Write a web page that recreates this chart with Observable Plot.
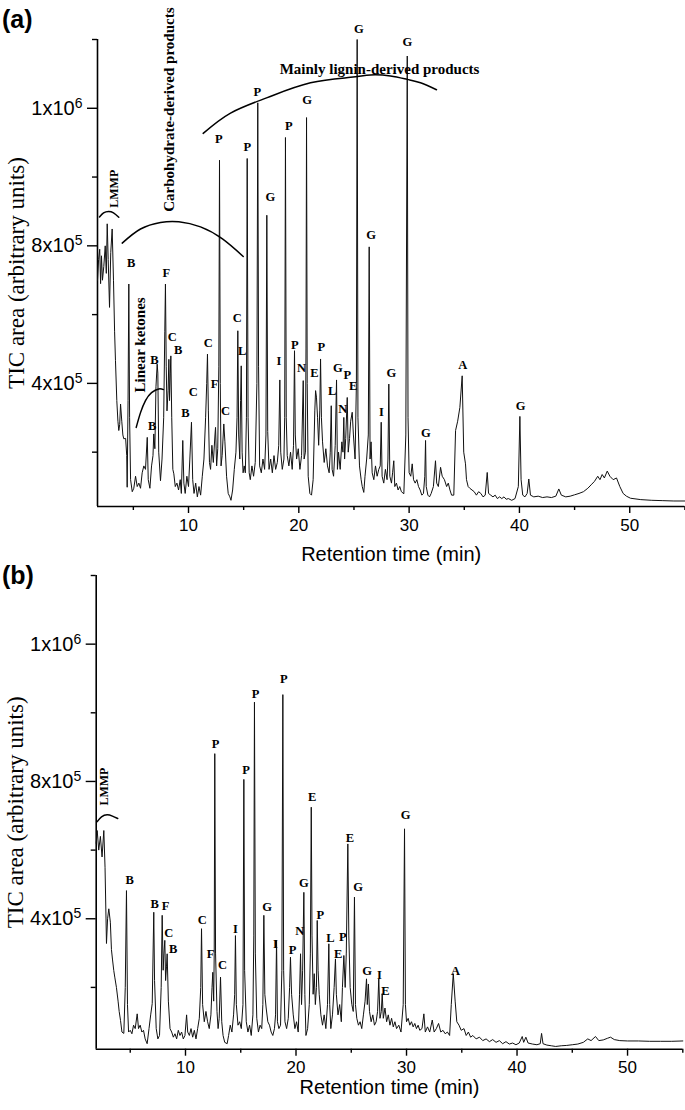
<!DOCTYPE html>
<html><head><meta charset="utf-8">
<script src="https://cdn.jsdelivr.net/npm/d3@7"></script>
<script src="https://cdn.jsdelivr.net/npm/@observablehq/plot@0.6"></script>
<style>
body{margin:0;background:#fff;}
#wrap{position:relative;width:685px;height:1110px;overflow:hidden;background:#fff;}
#wrap svg{position:absolute;left:0;background:none;}
.panel{position:absolute;left:2px;font:bold 25px "Liberation Sans",Arial,sans-serif;line-height:28px;color:#000;}
</style></head><body><div id="wrap"><div class="panel" style="top:5px">(a)</div><div class="panel" style="top:561px">(b)</div></div>
<script>
// ---- axis ticks / labels ----
const xMajor = [10, 20, 30, 40, 50];
const xMinor = [5, 15, 25, 35, 45, 55];
const yMajor = [4, 8, 12];                       // in units of 10^5
const yMajorLabels = ["4x10^5", "8x10^5", "1x10^6"];
const yMinor = [2, 6, 10, 14];
const xTitle = "Retention time (min)";
const yTitle = "TIC area (arbitrary units)";

// ---- panel (a): chromatogram [time (min), TIC area (x10^5)] ----
const traceA = [[1.75,7.0],[1.85,7.6],[1.95,7.9],[2.03,6.9],[2.11,7.71],[2.2,7.0],[2.32,7.4],[2.45,8.0],[2.55,7.2],[2.63,8.64],[2.72,7.6],[2.84,6.21],[2.95,7.8],[3.08,8.49],[3.2,7.0],[3.3,5.5],[3.38,4.66],[3.5,3.5],[3.6,2.9],[3.68,2.63],[3.76,2.8],[3.84,3.4],[3.95,2.9],[4.05,2.5],[4.13,2.39],[4.3,2.4],[4.4,1.9],[4.44,0.98],[4.52,3.5],[4.59,6.89],[4.66,3.0],[4.75,1.2],[4.9,0.85],[5.04,0.95],[5.2,1.3],[5.35,1.0],[5.5,1.1],[5.65,0.95],[5.8,1.4],[5.95,1.6],[6.1,1.5],[6.26,2.43],[6.35,1.2],[6.5,0.95],[6.65,1.6],[6.78,1.9],[6.85,2.53],[6.95,2.1],[7.05,3.9],[7.16,4.56],[7.22,4.3],[7.3,2.0],[7.46,1.17],[7.6,1.8],[7.75,3.0],[7.85,5.5],[7.91,6.89],[7.98,4.5],[8.05,3.2],[8.15,3.8],[8.22,4.7],[8.28,3.5],[8.35,4.3],[8.4,4.8],[8.48,3.0],[8.58,1.5],[8.67,1.37],[8.8,1.0],[8.95,1.1],[9.1,0.9],[9.25,1.2],[9.35,0.8],[9.48,2.34],[9.58,1.1],[9.7,0.8],[9.85,1.3],[10.0,1.0],[10.12,1.8],[10.27,2.87],[10.38,1.2],[10.5,0.8],[10.65,1.1],[10.8,0.7],[10.95,1.0],[11.1,0.75],[11.25,1.3],[11.4,1.8],[11.55,3.0],[11.65,4.0],[11.72,4.85],[11.8,3.2],[11.9,1.7],[12.0,1.5],[12.12,2.2],[12.25,1.7],[12.4,2.5],[12.45,2.72],[12.55,1.6],[12.65,2.1],[12.75,4.5],[12.81,10.49],[12.88,4.0],[12.95,1.6],[13.05,1.9],[13.2,2.82],[13.3,2.3],[13.45,1.3],[13.6,0.8],[13.75,0.7],[13.85,0.6],[14.0,0.9],[14.15,1.5],[14.3,2.0],[14.4,3.0],[14.47,5.53],[14.55,2.5],[14.65,1.8],[14.72,3.5],[14.78,4.51],[14.86,2.0],[14.95,1.4],[15.05,1.6],[15.15,1.4],[15.25,3.0],[15.32,10.54],[15.4,3.0],[15.5,1.4],[15.6,1.2],[15.75,1.6],[15.9,1.3],[16.05,1.7],[16.2,4.0],[16.28,12.16],[16.35,4.5],[16.45,1.6],[16.6,1.4],[16.75,1.8],[16.9,1.5],[17.02,2.5],[17.1,8.89],[17.18,2.6],[17.3,1.5],[17.45,1.8],[17.6,1.4],[17.75,1.9],[17.9,1.5],[18.05,1.7],[18.18,2.2],[18.28,4.1],[18.36,2.0],[18.5,1.5],[18.65,1.8],[18.72,3.0],[18.79,11.15],[18.86,3.0],[18.95,1.9],[19.1,1.6],[19.25,2.0],[19.4,1.5],[19.52,2.2],[19.61,4.95],[19.68,2.5],[19.8,1.8],[19.95,2.1],[20.1,1.5],[20.25,1.9],[20.4,4.08],[20.48,1.8],[20.6,2.0],[20.65,5.0],[20.7,11.73],[20.76,4.0],[20.85,1.3],[21.0,0.8],[21.15,0.75],[21.3,1.2],[21.45,3.2],[21.52,3.79],[21.6,3.6],[21.7,3.0],[21.8,2.2],[21.9,3.2],[21.97,4.71],[22.05,3.0],[22.15,2.3],[22.3,1.7],[22.45,2.1],[22.6,1.6],[22.75,1.4],[22.85,2.0],[22.94,3.35],[23.02,1.5],[23.15,1.3],[23.3,2.2],[23.42,4.1],[23.5,1.5],[23.6,2.0],[23.75,1.5],[23.9,2.3],[24.0,2.0],[24.08,3.01],[24.15,1.8],[24.25,2.4],[24.39,3.59],[24.48,2.0],[24.6,2.4],[24.7,2.9],[24.84,3.16],[24.95,2.5],[25.1,1.8],[25.22,4.0],[25.29,14.0],[25.36,3.0],[25.5,1.6],[25.65,1.2],[25.75,1.0],[25.89,0.83],[26.0,1.3],[26.15,1.8],[26.3,2.5],[26.38,7.97],[26.46,1.8],[26.55,2.3],[26.65,1.4],[26.8,1.2],[26.95,1.6],[27.1,1.3],[27.25,1.5],[27.38,1.6],[27.47,2.87],[27.55,1.3],[27.7,1.1],[27.85,1.5],[28.0,1.2],[28.08,1.8],[28.16,3.98],[28.25,1.3],[28.4,1.1],[28.5,1.4],[28.61,1.75],[28.7,1.0],[28.85,1.1],[29.0,0.9],[29.15,1.0],[29.3,0.85],[29.52,0.79],[29.7,2.5],[29.83,13.52],[29.9,3.0],[30.0,1.4],[30.15,1.3],[30.28,1.66],[30.4,1.2],[30.55,1.1],[30.7,1.2],[30.85,1.0],[31.0,0.9],[31.15,0.75],[31.3,0.8],[31.42,1.3],[31.49,2.34],[31.55,1.0],[31.7,0.75],[31.85,0.7],[32.0,0.8],[32.2,1.0],[32.39,1.75],[32.5,1.1],[32.65,1.0],[32.85,1.56],[33.0,1.3],[33.2,1.2],[33.4,1.0],[33.55,1.1],[33.7,0.9],[33.85,0.75],[34.05,0.75],[34.21,2.63],[34.4,2.9],[34.6,3.3],[34.81,4.22],[34.95,2.0],[35.11,1.66],[35.2,1.2],[35.35,1.0],[35.5,0.95],[35.7,0.9],[35.9,0.85],[36.1,0.75],[36.3,0.85],[36.5,0.8],[36.7,0.7],[36.9,0.75],[37.08,1.41],[37.2,0.8],[37.4,0.75],[37.6,0.7],[37.8,0.75],[38.0,0.65],[38.2,0.7],[38.4,0.65],[38.6,0.7],[38.8,0.63],[39.0,0.65],[39.3,0.6],[39.6,0.65],[39.9,1.0],[40.04,3.04],[40.15,1.2],[40.3,0.75],[40.5,0.7],[40.7,0.8],[40.85,1.22],[41.0,0.75],[41.3,0.7],[41.7,0.72],[42.1,0.68],[42.5,0.7],[42.9,0.68],[43.3,0.72],[43.57,0.93],[43.8,0.75],[44.2,0.7],[44.6,0.72],[45.0,0.76],[45.4,0.8],[45.8,0.85],[46.2,0.95],[46.5,1.05],[46.8,1.15],[47.1,1.3],[47.3,1.2],[47.5,1.35],[47.7,1.25],[47.96,1.45],[48.2,1.3],[48.5,1.2],[48.8,1.25],[49.1,1.0],[49.4,0.8],[49.7,0.72],[50.07,0.66],[51.0,0.62],[52.0,0.6],[53.0,0.59],[54.0,0.58],[55.0,0.58]];

// peak labels (a): [time, level, letter]
const peaksA = [[4.81,7.50,"B"],[6.71,2.77,"B"],[6.92,4.68,"B"],[7.98,7.20,"F"],[8.52,5.36,"C"],[9.07,4.98,"B"],[9.73,3.13,"B"],[10.43,3.76,"C"],[11.79,5.16,"C"],[12.36,3.98,"F"],[13.35,3.21,"C"],[12.75,11.10,"P"],[14.42,5.90,"C"],[14.87,4.93,"L"],[15.32,10.86,"P"],[16.23,12.48,"P"],[17.43,9.42,"G"],[18.19,4.66,"I"],[19.09,11.49,"P"],[19.64,5.12,"P"],[20.24,4.46,"N"],[20.76,12.24,"G"],[21.42,4.29,"E"],[22.03,5.07,"P"],[23.03,3.77,"L"],[23.54,4.46,"G"],[23.99,3.26,"N"],[24.39,4.25,"P"],[24.93,3.93,"E"],[25.44,14.30,"G"],[26.56,8.31,"G"],[27.50,3.16,"I"],[28.38,4.29,"G"],[29.83,13.94,"G"],[31.51,2.55,"G"],[34.87,4.53,"A"],[40.10,3.33,"G"]];

// group annotations (a)
const carbArc = [[3.99,8.08],[5.65,8.49],[7.46,8.68],[9.12,8.70],[11.09,8.55],[13.08,8.20],[14.96,7.69]];
const ligninArc = [[11.33,11.27],[13.81,11.86],[17.14,12.31],[21.06,12.74],[24.69,12.90],[26.50,12.97],[28.31,12.94],[29.83,12.84],[31.03,12.74],[32.48,12.54]];
const ketoneArc = [[5.26,2.72],[5.65,3.15],[6.10,3.50],[6.65,3.73],[7.31,3.84],[7.73,3.82]];
const lmmpArcA = [[1.93,8.84],[2.30,8.96],[2.75,9.00],[3.20,8.96],[3.68,8.83]];

// ---- panel (b) ----
const traceB = [[1.92,6.2],[2.01,6.57],[2.15,6.0],[2.3,6.4],[2.45,5.8],[2.61,6.57],[2.72,5.5],[2.85,3.28],[2.95,4.0],[3.06,4.29],[3.2,3.9],[3.3,3.1],[3.4,2.8],[3.51,2.49],[3.6,2.3],[3.75,2.0],[3.9,1.6],[4.0,1.3],[4.12,1.04],[4.25,0.7],[4.42,0.66],[4.55,2.0],[4.66,4.82],[4.75,1.5],[4.85,0.7],[5.0,0.75],[5.15,0.65],[5.3,0.9],[5.45,0.8],[5.63,1.23],[5.75,0.8],[5.9,0.9],[6.05,0.7],[6.2,0.75],[6.35,0.5],[6.53,0.36],[6.7,0.8],[6.85,1.2],[6.99,1.53],[7.13,4.19],[7.2,2.2],[7.35,0.8],[7.5,0.5],[7.65,0.6],[7.8,2.0],[7.89,4.1],[7.98,2.5],[8.05,3.0],[8.13,3.37],[8.2,2.2],[8.28,2.6],[8.34,2.98],[8.45,1.6],[8.6,0.8],[8.75,0.7],[8.9,0.55],[9.05,0.65],[9.2,0.5],[9.35,0.75],[9.5,0.6],[9.65,0.7],[9.8,0.5],[9.95,0.6],[10.1,1.2],[10.2,0.7],[10.35,0.6],[10.5,0.8],[10.65,0.55],[10.8,0.75],[10.95,0.5],[11.1,0.8],[11.25,1.1],[11.38,2.0],[11.45,3.71],[11.55,1.5],[11.7,1.0],[11.85,1.3],[12.0,1.0],[12.15,0.8],[12.3,1.2],[12.4,2.0],[12.47,2.44],[12.55,1.6],[12.6,3.0],[12.65,8.81],[12.72,3.0],[12.85,1.3],[12.95,0.8],[13.05,1.1],[13.17,2.3],[13.28,1.0],[13.4,0.6],[13.55,0.4],[13.77,0.36],[13.9,0.6],[14.05,0.9],[14.2,0.7],[14.35,1.2],[14.45,1.8],[14.52,3.51],[14.6,1.5],[14.75,0.9],[14.9,1.0],[15.05,0.8],[15.2,1.5],[15.28,8.06],[15.35,2.5],[15.5,1.0],[15.65,0.7],[15.8,0.9],[15.95,0.6],[16.1,1.2],[16.18,3.5],[16.24,10.31],[16.32,3.0],[16.45,1.1],[16.6,0.7],[16.75,0.9],[16.9,0.8],[17.0,1.5],[17.09,4.1],[17.18,1.8],[17.3,1.4],[17.45,1.0],[17.6,0.9],[17.75,0.7],[17.9,0.6],[18.05,0.8],[18.15,1.2],[18.24,3.37],[18.32,1.0],[18.45,0.8],[18.6,0.9],[18.72,2.5],[18.81,10.53],[18.88,2.5],[19.0,1.0],[19.15,0.8],[19.3,1.1],[19.42,2.0],[19.5,2.88],[19.6,1.8],[19.75,1.2],[19.9,0.8],[20.05,1.0],[20.2,0.7],[20.32,1.8],[20.41,2.98],[20.5,1.5],[20.6,2.5],[20.71,4.77],[20.8,1.8],[20.9,0.6],[21.05,0.8],[21.2,1.5],[21.3,3.0],[21.38,7.25],[21.45,3.5],[21.55,1.8],[21.65,2.4],[21.75,1.5],[21.85,2.0],[21.92,3.95],[22.0,2.5],[22.1,1.8],[22.25,1.2],[22.4,0.9],[22.55,1.2],[22.7,0.8],[22.85,1.5],[22.97,3.27],[23.05,1.5],[23.15,0.8],[23.3,1.2],[23.45,2.0],[23.57,2.83],[23.65,1.8],[23.8,1.2],[23.95,1.5],[24.1,1.0],[24.2,2.0],[24.33,2.93],[24.45,2.0],[24.55,3.0],[24.69,6.18],[24.78,3.5],[24.9,2.0],[25.05,1.5],[25.18,1.3],[25.29,4.63],[25.38,1.5],[25.5,1.1],[25.65,0.9],[25.8,1.0],[25.95,0.8],[26.1,1.2],[26.25,1.6],[26.38,2.25],[26.45,1.5],[26.55,2.1],[26.65,1.3],[26.8,1.0],[26.95,1.2],[27.1,0.9],[27.25,1.0],[27.38,1.3],[27.49,2.25],[27.6,1.1],[27.72,1.3],[27.8,1.82],[27.9,1.1],[28.05,1.4],[28.2,1.0],[28.35,1.2],[28.5,0.9],[28.65,1.1],[28.8,0.85],[28.95,1.0],[29.1,0.8],[29.3,0.9],[29.5,0.7],[29.7,1.5],[29.82,6.62],[29.9,1.5],[30.0,1.0],[30.15,1.1],[30.3,0.9],[30.45,1.0],[30.6,0.85],[30.75,0.95],[30.9,0.8],[31.05,0.9],[31.2,0.75],[31.4,0.8],[31.57,1.23],[31.7,0.7],[31.9,0.85],[32.1,0.7],[32.33,1.05],[32.5,0.7],[32.7,0.8],[32.9,0.95],[33.1,0.7],[33.3,0.75],[33.5,0.65],[33.7,0.7],[33.9,0.6],[34.05,1.5],[34.23,2.4],[34.4,1.6],[34.55,1.0],[34.75,0.9],[34.95,0.75],[35.2,0.8],[35.4,0.6],[35.6,0.7],[35.8,0.55],[36.0,0.6],[36.3,0.5],[36.6,0.55],[36.9,0.45],[37.2,0.5],[37.5,0.42],[37.8,0.48],[38.1,0.4],[38.4,0.45],[38.7,0.36],[39.0,0.42],[39.3,0.35],[39.6,0.38],[39.9,0.33],[40.2,0.38],[40.47,0.57],[40.6,0.4],[40.8,0.55],[41.0,0.38],[41.4,0.35],[41.8,0.33],[42.1,0.36],[42.22,0.66],[42.35,0.36],[42.7,0.32],[43.1,0.3],[43.5,0.28],[44.0,0.3],[44.5,0.31],[45.0,0.33],[45.5,0.35],[46.0,0.4],[46.4,0.5],[46.7,0.45],[47.1,0.57],[47.4,0.45],[47.8,0.47],[48.2,0.52],[48.46,0.55],[48.8,0.48],[49.3,0.45],[50.0,0.44],[51.0,0.44],[52.0,0.43],[53.0,0.43],[54.0,0.43],[55.0,0.44]];

const peaksB = [[4.96,5.14,"B"],[7.22,4.44,"B"],[8.19,4.38,"F"],[8.49,3.58,"C"],[8.89,3.13,"B"],[11.51,3.97,"C"],[12.26,2.98,"F"],[13.35,2.64,"C"],[12.71,9.10,"P"],[14.52,3.71,"I"],[15.49,8.32,"P"],[16.33,10.55,"P"],[17.39,4.34,"G"],[18.14,3.27,"I"],[18.90,10.99,"P"],[19.68,3.10,"P"],[20.34,3.63,"N"],[20.71,5.05,"G"],[21.47,7.56,"E"],[22.19,4.10,"P"],[23.12,3.45,"L"],[23.82,2.98,"E"],[24.24,3.48,"P"],[24.87,6.36,"E"],[25.63,4.92,"G"],[26.44,2.49,"G"],[27.56,2.37,"I"],[28.10,1.89,"E"],[29.91,7.01,"G"],[34.43,2.49,"A"]];
const lmmpArcB = [[2.01,6.83],[2.40,6.97],[2.91,7.03],[3.39,6.99],[3.87,6.92]];

// ---- notes: [time, level, text, rotate, anchor, size] ----
const notesA = [[8.21,8.99,"Carbohydrate-derived products",-90,"start",15],[27.32,13.14,"Mainly lignin-derived products",0,"middle",15],[5.65,5.12,"Linear ketones",-90,"middle",15],[3.29,9.66,"LMMP",-90,"middle",12]];
const notesB = [[2.64,7.85,"LMMP",-90,"middle",12]];

const SERIF = "'Liberation Serif','Times New Roman',serif";
const SANS = "'Liberation Sans',Arial,sans-serif";

function build({trace, peaks, arcs, notes, xDomain, yDomain, height, mt, mb, ml, mr, xTitleDy}) {
  const svg = Plot.plot({
    width: 685, height,
    marginTop: mt, marginBottom: mb, marginLeft: ml, marginRight: mr,
    x: {domain: xDomain}, y: {domain: yDomain},
    style: {fontFamily: SANS, color: "#000", background: "none", overflow: "visible"},
    marks: [
      Plot.axisX({ticks: xMinor, tickSize: 4, tickFormat: () => "", label: null, strokeWidth: 1.4}),
      Plot.axisX({ticks: xMajor, tickSize: 7, tickPadding: 5, fontSize: 17, label: null, strokeWidth: 1.4}),
      Plot.axisY({ticks: yMinor, tickSize: 5, tickFormat: () => "", label: null, strokeWidth: 1.4}),
      Plot.axisY({ticks: yMajor, tickSize: 10, tickPadding: 5, fontSize: 20, label: null, strokeWidth: 1.4,
                  tickFormat: d => yMajorLabels[yMajor.indexOf(d)]}),
      Plot.ruleX([xDomain[0]], {stroke: "#000", strokeWidth: 1.6}),
      Plot.ruleY([yDomain[0]], {stroke: "#000", strokeWidth: 1.6}),
      Plot.line(trace, {x: d => d[0], y: d => d[1], stroke: "#111", strokeWidth: 1}),
      ...arcs.map(a => Plot.line(a, {x: d => d[0], y: d => d[1], curve: "natural", stroke: "#000", strokeWidth: 1.5})),
      Plot.text(peaks, {x: d => d[0], y: d => d[1], text: d => d[2], fontFamily: SERIF, fontWeight: "bold", fontSize: 12.5, fill: "#000"}),
      ...notes.map(n => Plot.text([n], {x: d => d[0], y: d => d[1], text: d => d[2], rotate: n[3], textAnchor: n[4], fontSize: n[5], fontFamily: SERIF, fontWeight: "bold", fill: "#000"})),
      Plot.text([xTitle], {text: d => d, frameAnchor: "bottom", dy: xTitleDy, textAnchor: "middle", fontSize: 20, fontFamily: SANS, fill: "#000"}),
      Plot.text([yTitle], {text: d => d, frameAnchor: "left", dx: -81, rotate: -90, textAnchor: "middle", fontSize: 23, fontFamily: SERIF, fill: "#000"})
    ]
  });
  svg.querySelectorAll('g[aria-label="y-axis tick label"] text').forEach(t => {
    const s = t.textContent, k = s.indexOf("^");
    if (k < 0) return;
    t.textContent = s.slice(0, k);
    const ts = document.createElementNS("http://www.w3.org/2000/svg", "tspan");
    ts.setAttribute("dy", "-0.5em");
    ts.setAttribute("font-size", "14");
    ts.textContent = s.slice(k + 1);
    t.appendChild(ts);
  });
  return svg;
}

const wrap = document.getElementById("wrap");
const svgA = build({trace: traceA, peaks: peaksA, arcs: [carbArc, ligninArc, ketoneArc, lmmpArcA], notes: notesA,
  xDomain: [1.75, 55], yDomain: [0.42, 14], height: 580, mt: 39, mb: 74, ml: 97, mr: 0.6, xTitleDy: 54});
svgA.style.top = "0px";
const svgB = build({trace: traceB, peaks: peaksB, arcs: [lmmpArcB], notes: notesB,
  xDomain: [1.92, 55], yDomain: [0.2, 14], height: 555, mt: 20, mb: 61.3, ml: 95.7, mr: 2.7, xTitleDy: 45});
svgB.style.top = "555px";
wrap.insertBefore(svgA, wrap.firstChild);
wrap.insertBefore(svgB, wrap.firstChild.nextSibling);
</script></body></html>
